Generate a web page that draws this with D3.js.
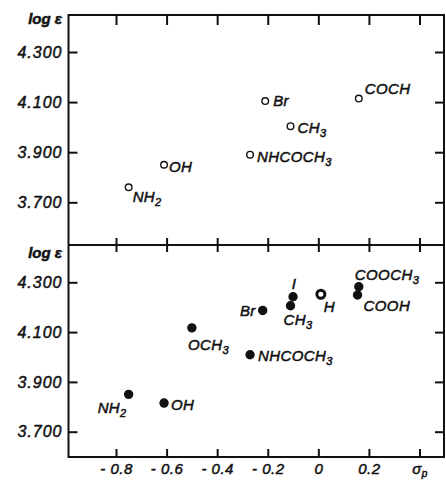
<!DOCTYPE html>
<html>
<head>
<meta charset="utf-8">
<script src="https://cdn.jsdelivr.net/npm/d3@7"></script>
<style>
  body { margin: 0; background: #fff; }
  svg { display: block; }
  .lbl, .tick text, .axis-title {
    font-family: "Liberation Sans", Arial, sans-serif;
    font-style: italic;
    fill: #111;
    stroke: #111;
    stroke-width: 0.5px;
  }
  .tick line, .frame { stroke: #111; stroke-width: 2px; }
</style>
</head>
<body>
<svg id="chart" width="446" height="484"></svg>
<script>
// upper panel (open circles)
const topNames = ["NH2", "OH", "NHCOCH3", "Br", "CH3", "COCH"];
const topSigma = [-0.75, -0.61, -0.27, -0.21, -0.11, 0.16];
const topLogE = [3.76, 3.85, 3.89, 4.104, 4.004, 4.114];

// lower panel (filled dots)
const bottomNames = ["NH2", "OH", "OCH3", "NHCOCH3", "Br", "CH3", "I", "H", "COOCH3", "COOH"];
const bottomSigma = [-0.75, -0.61, -0.50, -0.27, -0.22, -0.11, -0.10, 0.01, 0.16, 0.155];
const bottomLogE = [3.85, 3.815, 4.117, 4.009, 4.187, 4.206, 4.242, 4.252, 4.282, 4.249];

const xTicks = [-0.8, -0.6, -0.4, -0.2, 0, 0.2, 0.4];
const xTickLabels = ["- 0.8", "- 0.6", "- 0.4", "- 0.2", "0", "0.2", "σp"];
const yTicks = [3.7, 3.9, 4.1, 4.3];
const yTickLabels = ["3.700", "3.900", "4.100", "4.300"];

// label offsets from the marker, [dx, dy, anchor]
const topPlacement = {
  NH2: [4, 15, "start"], OH: [5, 7, "start"], NHCOCH3: [7, 7, "start"],
  Br: [8, 5, "start"], CH3: [7, 7, "start"], COCH: [6, -5, "start"]
};
const bottomPlacement = {
  NH2: [-31, 19, "start"], OH: [7, 7, "start"], OCH3: [-4, 22, "start"],
  NHCOCH3: [8, 6, "start"], Br: [-7, 6, "end"], CH3: [-7, 19, "start"],
  I: [1, -8, "middle"], H: [3, 18, "start"], COOCH3: [-4, -7, "start"],
  COOH: [6, 16, "start"]
};

const frame = { left: 68.5, right: 444, top: 15, mid: 245, bottom: 457 };

const svg = d3.select("#chart");

const x = d3.scaleLinear().domain([-0.8, 0.4]).range([116, 419.5]);
const yTop = d3.scaleLinear().domain([3.7, 4.3]).range([202.3, 52]);
const yBottom = d3.scaleLinear().domain([3.7, 4.3]).range([431.7, 282.3]);

// write a formula with the digits as subscripts
function formula(text, name) {
  const parts = name.match(/\D+|\d+/g);
  let shift = 0;
  parts.forEach(p => {
    if (/\d/.test(p)) {
      text.append("tspan").attr("font-size", 11).attr("dy", 4 - shift).text(p);
      shift = 4;
    } else {
      text.append("tspan").attr("dy", -shift).text(p);
      shift = 0;
    }
  });
}

// frame
svg.append("rect")
  .attr("class", "frame")
  .attr("x", frame.left).attr("y", frame.top)
  .attr("width", frame.right - frame.left)
  .attr("height", frame.bottom - frame.top)
  .attr("fill", "none");
svg.append("line")
  .attr("class", "frame")
  .attr("x1", frame.left).attr("x2", frame.right)
  .attr("y1", frame.mid).attr("y2", frame.mid);

function styleAxis(g) {
  g.select(".domain").remove();
  g.selectAll(".tick text").attr("font-size", 16).attr("letter-spacing", 1);
}

function ticksOnly(g) {
  g.select(".domain").remove();
  g.selectAll(".tick text").remove();
}

// y axes, both panels
[yTop, yBottom].forEach(y => {
  svg.append("g")
    .attr("transform", `translate(${frame.left},0)`)
    .call(d3.axisLeft(y).tickValues(yTicks)
      .tickFormat((d, i) => yTickLabels[i])
      .tickSizeInner(-9).tickSizeOuter(0).tickPadding(6))
    .call(styleAxis);

  svg.append("g")
    .attr("transform", `translate(${frame.right},0)`)
    .call(d3.axisRight(y).tickValues(yTicks)
      .tickSizeInner(-9).tickSizeOuter(0))
    .call(ticksOnly);
});

// top border ticks
svg.append("g")
  .attr("transform", `translate(0,${frame.top})`)
  .call(d3.axisBottom(x).tickValues(xTicks).tickSizeInner(10).tickSizeOuter(0))
  .call(ticksOnly);

// divider ticks cross the line
svg.append("g")
  .attr("transform", `translate(0,${frame.mid})`)
  .call(d3.axisBottom(x).tickValues(xTicks).tickSizeInner(7).tickSizeOuter(0))
  .call(ticksOnly);
svg.append("g")
  .attr("transform", `translate(0,${frame.mid})`)
  .call(d3.axisTop(x).tickValues(xTicks).tickSizeInner(7).tickSizeOuter(0))
  .call(ticksOnly);

// bottom axis with labels
const xAxis = svg.append("g")
  .attr("transform", `translate(0,${frame.bottom})`)
  .call(d3.axisBottom(x).tickValues(xTicks)
    .tickFormat((d, i) => xTickLabels[i])
    .tickSizeInner(-8).tickSizeOuter(0).tickPadding(6))
  .call(styleAxis);
xAxis.selectAll(".tick text").attr("font-size", 15).attr("letter-spacing", 0.5);
xAxis.selectAll(".tick text").filter((d, i) => i === xTicks.length - 1)
  .text(null)
  .call(t => {
    t.append("tspan").text("σ");
    t.append("tspan").attr("font-size", 10).attr("dy", 3).text("p");
  });

// axis titles
[frame.top + 4, frame.mid + 8].forEach(yy => {
  svg.append("text")
    .attr("class", "axis-title")
    .attr("x", 62).attr("y", yy + 5)
    .attr("text-anchor", "end")
    .attr("font-size", 15)
    .attr("font-weight", "bold")
    .text("log ε");
});

// points
function drawPanel(names, sigma, logE, y, placement, filled) {
  const data = names.map((n, i) => ({ name: n, sigma: sigma[i], logE: logE[i] }));
  const g = svg.append("g");

  g.selectAll("circle")
    .data(data)
    .enter()
    .append("circle")
    .attr("cx", d => x(d.sigma))
    .attr("cy", d => y(d.logE))
    .attr("r", filled ? 4 : 3.3)
    .attr("fill", d => filled && d.name !== "H" ? "#111" : "#fff")
    .attr("stroke", "#111")
    .attr("stroke-width", d => filled && d.name === "H" ? 3 : 1.4);

  g.selectAll("text")
    .data(data)
    .enter()
    .append("text")
    .attr("class", "lbl")
    .attr("font-size", 15)
    .attr("letter-spacing", 0.4)
    .attr("x", d => x(d.sigma) + placement[d.name][0])
    .attr("y", d => y(d.logE) + placement[d.name][1])
    .attr("text-anchor", d => placement[d.name][2])
    .each(function(d) { formula(d3.select(this), d.name); });
}

drawPanel(topNames, topSigma, topLogE, yTop, topPlacement, false);
drawPanel(bottomNames, bottomSigma, bottomLogE, yBottom, bottomPlacement, true);
</script>
</body>
</html>
